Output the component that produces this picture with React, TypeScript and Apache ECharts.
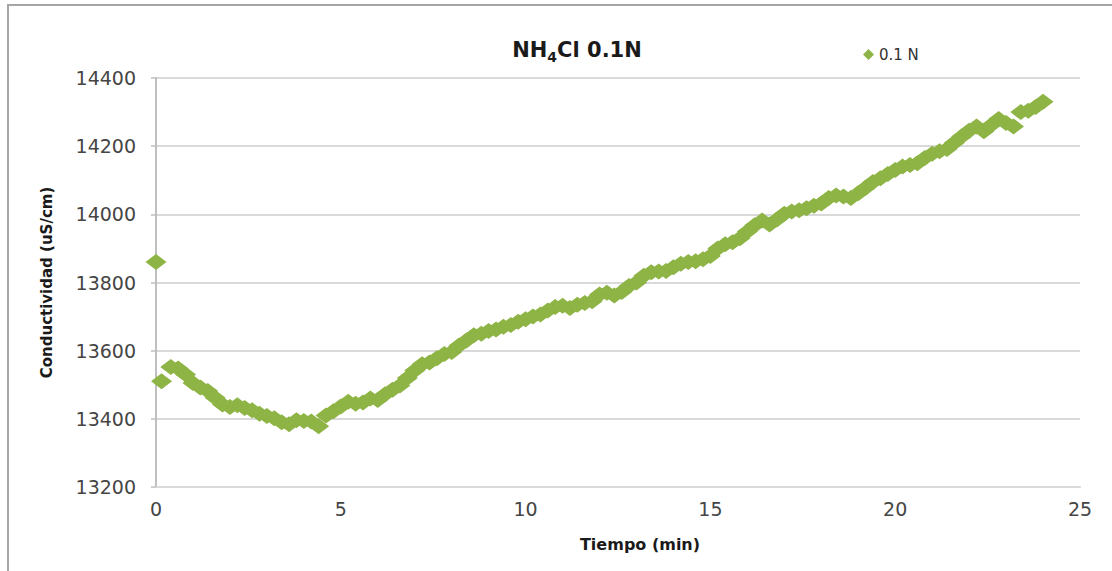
import React, { useEffect, useRef } from "react";
import * as echarts from "echarts";

const times = [
  0, 0.15, 0.4, 0.6, 0.8, 1.0, 1.2, 1.4, 1.6, 1.8, 2.0, 2.2, 2.4, 2.6, 2.8, 3.0,
  3.2, 3.4, 3.6, 3.8, 4.0, 4.2, 4.4, 4.6, 4.8, 5.0, 5.2, 5.4, 5.6, 5.8, 6.0,
  6.2, 6.4, 6.6, 6.8, 7.0, 7.2, 7.4, 7.6, 7.8, 8.0, 8.2, 8.4, 8.6, 8.8, 9.0,
  9.2, 9.4, 9.6, 9.8, 10.0, 10.2, 10.4, 10.6, 10.8, 11.0, 11.2, 11.4, 11.6,
  11.8, 12.0, 12.2, 12.4, 12.6, 12.8, 13.0, 13.2, 13.4, 13.6, 13.8, 14.0, 14.2,
  14.4, 14.6, 14.8, 15.0, 15.2, 15.4, 15.6, 15.8, 16.0, 16.2, 16.4, 16.6, 16.8,
  17.0, 17.2, 17.4, 17.6, 17.8, 18.0, 18.2, 18.4, 18.6, 18.8, 19.0, 19.2, 19.4,
  19.6, 19.8, 20.0, 20.2, 20.4, 20.6, 20.8, 21.0, 21.2, 21.4, 21.6, 21.8, 22.0,
  22.2, 22.4, 22.6, 22.8, 23.0, 23.2, 23.4, 23.6, 23.8, 24.0,
];

const conductividad = [
  13860, 13510, 13552, 13548, 13530, 13505, 13492, 13482, 13462, 13442, 13435,
  13440, 13432, 13425, 13415, 13408, 13402, 13390, 13384, 13396, 13394, 13392,
  13378, 13410, 13422, 13436, 13450, 13444, 13448, 13460, 13455, 13472, 13485,
  13498, 13520, 13542, 13560, 13565, 13578, 13590, 13596, 13615, 13630, 13645,
  13650, 13658, 13662, 13670, 13675, 13685, 13692, 13700, 13706, 13718, 13728,
  13732, 13725, 13735, 13740, 13745, 13765, 13770, 13762, 13772, 13790, 13800,
  13820, 13830, 13832, 13834, 13845, 13855, 13860, 13862, 13868, 13878, 13900,
  13912, 13918, 13930, 13950, 13968, 13982, 13970, 13985, 14002, 14008, 14012,
  14018, 14025, 14032, 14048, 14055, 14052, 14048, 14062, 14078, 14095, 14106,
  14118, 14130, 14140, 14145, 14150, 14165, 14178, 14185, 14192, 14210, 14228,
  14245, 14258, 14244, 14262, 14280, 14268, 14258, 14300, 14304, 14315, 14330,
];

const seriesName = "0.1 N";
const xTicks = { min: 0, max: 25, interval: 5 };
const yTicks = { min: 13200, max: 14400, interval: 200 };

const GREEN = "#8db444";
const FONT = "DejaVu Sans";

export default function App() {
  const ref = useRef<HTMLDivElement>(null);

  useEffect(() => {
    if (!ref.current) return;
    const chart = echarts.init(ref.current, null, { renderer: "svg" });
    const data = times.map((t, i) => [t, conductividad[i]]);
    chart.setOption({
      animation: false,
      backgroundColor: "#ffffff",
      title: {
        text: "NH{sub|4}Cl 0.1N",
        left: 572,
        top: 30,
        textAlign: "center",
        textStyle: {
          fontFamily: FONT,
          fontSize: 21,
          fontWeight: "bold",
          color: "#1a1a1a",
          lineHeight: 21,
          verticalAlign: "top",
          rich: {
            sub: {
              fontFamily: FONT,
              fontSize: 14,
              fontWeight: "bold",
              color: "#1a1a1a",
              lineHeight: 29,
              verticalAlign: "bottom",
            },
          },
        },
      },
      legend: {
        left: 858,
        top: 42,
        itemWidth: 11,
        itemHeight: 11,
        itemGap: 4,
        textStyle: { fontFamily: FONT, fontSize: 15, color: "#333333" },
        data: [{ name: seriesName, icon: "diamond" }],
      },
      grid: { left: 156, right: 32, top: 78, bottom: 84, containLabel: false },
      xAxis: {
        type: "value",
        min: xTicks.min,
        max: xTicks.max,
        interval: xTicks.interval,
        name: "Tiempo (min)",
        nameLocation: "middle",
        nameGap: 49,
        nameTextStyle: {
          fontFamily: FONT,
          fontSize: 16,
          fontWeight: "bold",
          color: "#1a1a1a",
          padding: [0, 0, 0, 44],
        },
        axisLine: { show: true, lineStyle: { color: "#d9d9d9", width: 2 } },
        axisTick: { show: false },
        splitLine: { show: false },
        axisLabel: {
          fontFamily: FONT,
          fontSize: 19,
          color: "#454545",
          margin: 12,
        },
      },
      yAxis: {
        type: "value",
        min: yTicks.min,
        max: yTicks.max,
        interval: yTicks.interval,
        name: "Conductividad (uS/cm)",
        nameLocation: "middle",
        nameGap: 102,
        nameRotate: 90,
        nameTextStyle: {
          fontFamily: FONT,
          fontSize: 15,
          fontWeight: "bold",
          color: "#1a1a1a",
        },
        axisLine: { show: true, lineStyle: { color: "#bfbfbf", width: 2 } },
        axisTick: { show: true, length: 5, lineStyle: { color: "#bfbfbf", width: 1.5 } },
        splitLine: { show: true, lineStyle: { color: "#d9d9d9", width: 2 } },
        axisLabel: {
          fontFamily: FONT,
          fontSize: 19,
          color: "#454545",
          margin: 20,
          formatter: (v: number) => String(v),
        },
      },
      graphic: [
        {
          type: "rect",
          shape: { x: 8, y: 5, width: 1300, height: 800 },
          style: { fill: "none", stroke: "#a6a6a6", lineWidth: 2 },
          silent: true,
        },
      ],
      series: [
        {
          name: seriesName,
          type: "scatter",
          symbol: "diamond",
          symbolSize: [21, 16],
          itemStyle: { color: GREEN, opacity: 1 },
          data,
        },
      ],
    });
    return () => chart.dispose();
  }, []);

  return (
    <div
      ref={ref}
      style={{ position: "absolute", left: 0, top: 0, width: 1112, height: 571 }}
    />
  );
}
